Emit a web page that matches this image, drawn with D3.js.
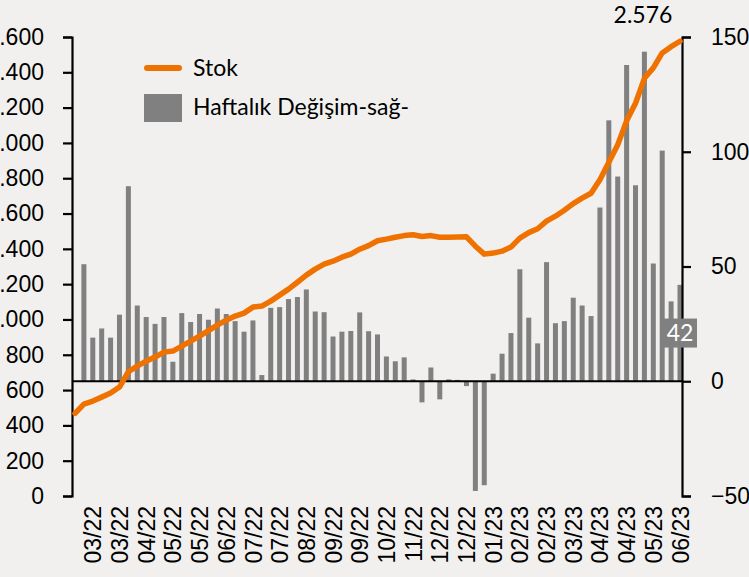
<!DOCTYPE html>
<meta charset="utf-8">
<style>

body {
  margin: 0;
  background: #f1f0ee;
}

svg {
  display: block;
  font-family: Lato, "Open Sans", sans-serif;
}

.tick text {
  font-size: 23px;
  fill: #000;
}

.axis path,
.axis line {
  stroke: #000;
  stroke-width: 2.2px;
}

</style>
<svg width="749" height="577"></svg>
<script src="https://cdn.jsdelivr.net/npm/d3@7"></script>
<script>

// stok (sol eksen)
var stock = [468, 521, 538, 560, 583, 617, 704, 736, 764, 787, 815, 821, 849, 877, 906, 937, 968, 996,
  1019, 1036, 1070, 1076, 1104, 1138, 1172, 1211, 1251, 1285, 1313, 1330, 1353, 1370, 1398, 1418,
  1446, 1455, 1466, 1475, 1480, 1470, 1475, 1466, 1466, 1467, 1468, 1415, 1370, 1376, 1387, 1410,
  1461, 1492, 1514, 1557, 1585, 1619, 1656, 1687, 1715, 1792, 1890, 1990, 2125, 2225, 2366, 2425,
  2510, 2545, 2576];

// haftalik degisim (sag eksen)
var change = [null, 51, 19, 23, 19, 29, 85, 33, 28, 25, 28, 8.5, 29.7, 25.8, 29.3, 26.8, 31.7, 29.3,
  26.2, 21.6, 26.5, 2.7, 32, 32.3, 35.8, 36.7, 40, 30.4, 30.1, 19.5, 21.6, 21.9, 30, 21.8, 20.4,
  10.8, 8.7, 10.4, 0.8, -9.2, 6, -7.9, 0.8, 0.6, -2.1, -47.8, -45.3, 3.3, 12, 21, 48.8, 27.7, 16.5,
  51.9, 25.3, 26.2, 36.4, 33, 28.4, 75.7, 113.7, 89.2, 137.8, 85.4, 143.6, 51.3, 100.5, 34.8, 42];

var tickLabels = ["03/22", "03/22", "04/22", "05/22", "05/22", "06/22", "07/22", "07/22", "08/22",
  "09/22", "09/22", "10/22", "11/22", "12/22", "12/22", "01/23", "02/23", "02/23", "03/23",
  "04/23", "04/23", "05/23", "06/23"];

var leftTicks = [0, 200, 400, 600, 800, 1000, 1200, 1400, 1600, 1800, 2000, 2200, 2400, 2600];
var rightTicks = [-50, 0, 50, 100, 150];

var svg = d3.select("svg");

var tr = d3.formatLocale({decimal: ",", thousands: ".", grouping: [3], currency: ["", ""]});
var fmt = tr.format(",d");

var x = d3.scalePoint().domain(d3.range(stock.length)).range([75, 680]);
var yL = d3.scaleLinear().domain([0, 2600]).range([496, 37]);
var yR = d3.scaleLinear().domain([-50, 150]).range([496, 37]);

// bars
svg.append("g")
  .selectAll("rect")
  .data(change.map(function(v, i) { return {i: i, v: v}; }).filter(function(d) { return d.v != null; }))
  .enter().append("rect")
    .attr("x", function(d) { return x(d.i) - 2.5; })
    .attr("width", 5)
    .attr("y", function(d) { return yR(Math.max(0, d.v)); })
    .attr("height", function(d) { return Math.abs(yR(d.v) - yR(0)); })
    .attr("fill", "#808080");

// zero line
svg.append("line")
  .attr("x1", 72).attr("x2", 682)
  .attr("y1", yR(0)).attr("y2", yR(0))
  .attr("stroke", "#000")
  .attr("stroke-width", 2);

// axes
svg.append("g")
  .attr("class", "axis")
  .attr("transform", "translate(72,0)")
  .call(d3.axisLeft(yL).tickValues(leftTicks).tickSize(9).tickPadding(19).tickFormat(fmt));

svg.append("g")
  .attr("class", "axis")
  .attr("transform", "translate(682,0)")
  .call(d3.axisRight(yR).tickValues(rightTicks).tickSize(9).tickPadding(20));

var xAxis = svg.append("g")
  .attr("transform", "translate(0,496)")
  .call(d3.axisBottom(x)
    .tickValues(d3.range(2, stock.length, 3))
    .tickSize(0)
    .tickFormat(function(d, i) { return tickLabels[i]; }));
xAxis.select(".domain").remove();
xAxis.selectAll("text")
  .attr("y", 0)
  .attr("x", -10)
  .attr("dy", "0.35em")
  .attr("transform", "rotate(-90)")
  .style("text-anchor", "end");

// stock line
svg.append("path")
  .datum(stock)
  .attr("fill", "none")
  .attr("stroke", "#ef7100")
  .attr("stroke-width", 5.5)
  .attr("stroke-linejoin", "round")
  .attr("stroke-linecap", "round")
  .attr("d", d3.line().x(function(d, i) { return x(i); }).y(function(d) { return yL(d); }));

// labels
var last = stock.length - 1;
svg.append("text")
  .attr("x", x(last) - 37)
  .attr("y", yL(stock[last]) - 18)
  .attr("text-anchor", "middle")
  .style("font-size", "23px")
  .text(fmt(stock[last]));

var cy = (yR(change[last]) + yR(0)) / 2;
svg.append("rect")
  .attr("x", x(last) - 17).attr("y", cy - 14.5)
  .attr("width", 34).attr("height", 29)
  .attr("fill", "#808080");
svg.append("text")
  .attr("x", x(last))
  .attr("y", cy)
  .attr("dy", "0.36em")
  .attr("text-anchor", "middle")
  .attr("fill", "#fff")
  .style("font-size", "23px")
  .text(change[last]);

// legend
var legend = svg.append("g");
legend.append("line")
  .attr("x1", 147).attr("x2", 179)
  .attr("y1", 68).attr("y2", 68)
  .attr("stroke", "#ef7100")
  .attr("stroke-width", 6)
  .attr("stroke-linecap", "round");
legend.append("text")
  .attr("x", 193).attr("y", 76)
  .style("font-size", "23px")
  .text("Stok");
legend.append("rect")
  .attr("x", 144).attr("y", 94)
  .attr("width", 38).attr("height", 28)
  .attr("fill", "#808080");
legend.append("text")
  .attr("x", 193).attr("y", 115)
  .style("font-size", "23px")
  .text("Haftalık Değişim-sağ-");

</script>
